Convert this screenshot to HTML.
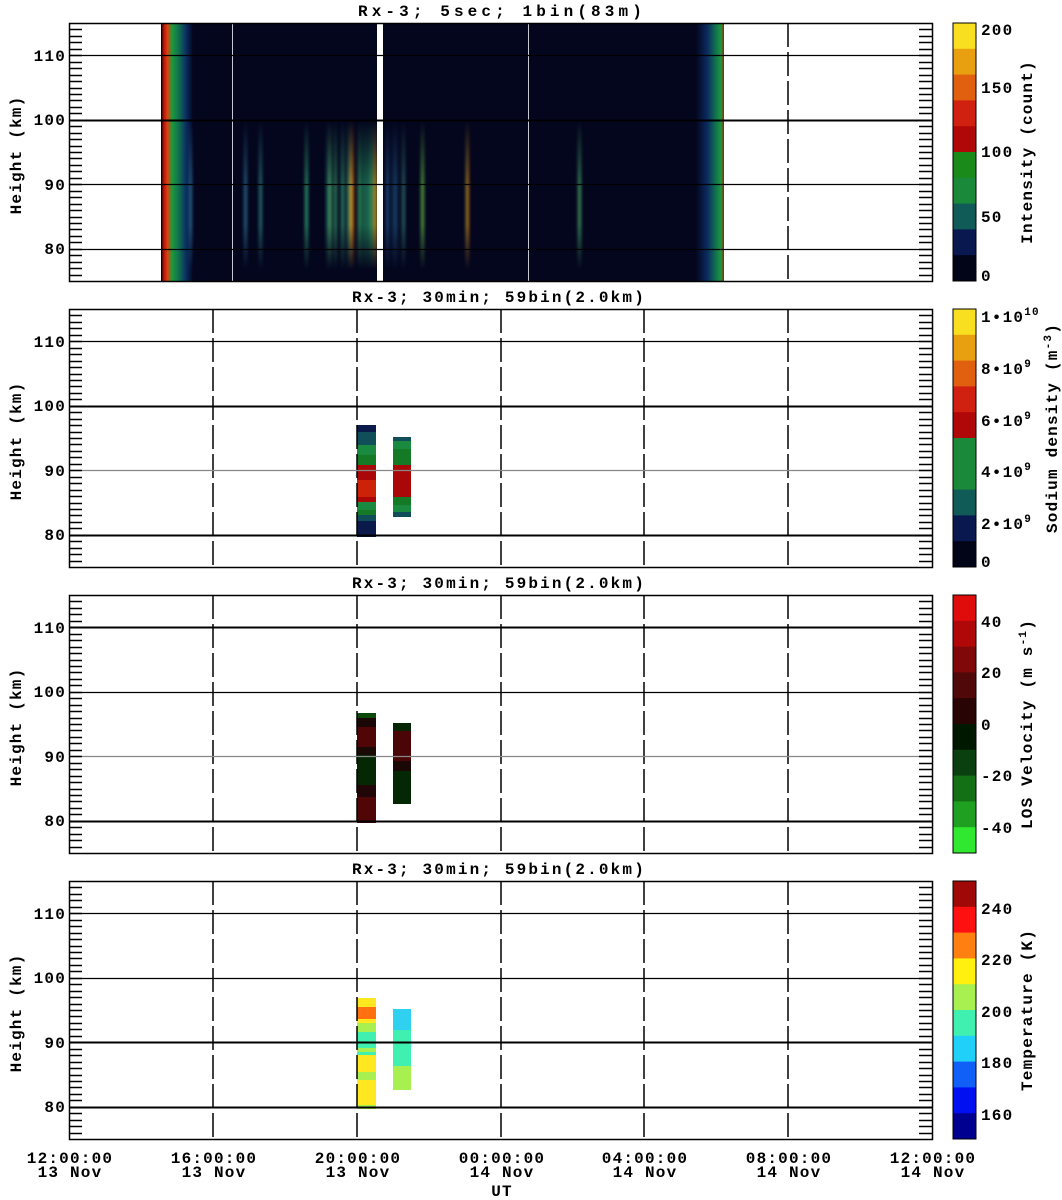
<!DOCTYPE html>
<html><head><meta charset="utf-8"><style>
html,body{margin:0;padding:0;background:#fff;}
svg{display:block;}
text{font-family:"Liberation Mono",monospace;font-weight:bold;fill:#000;font-size:16px;letter-spacing:1.2px;}
</style></head><body>
<svg id="s" width="1062" height="1200" viewBox="0 0 1062 1200" xmlns="http://www.w3.org/2000/svg" xml:space="preserve">
<defs>
<linearGradient id="lb" x1="0" x2="1" y1="0" y2="0">
<stop offset="0" stop-color="#000"/><stop offset="0.08" stop-color="#b01008"/><stop offset="0.2" stop-color="#e04010"/><stop offset="0.35" stop-color="#1a9a3a"/><stop offset="0.55" stop-color="#127050"/><stop offset="0.8" stop-color="#0a2a60"/><stop offset="1" stop-color="#04061e"/>
</linearGradient>
<linearGradient id="rb" x1="0" x2="1" y1="0" y2="0">
<stop offset="0" stop-color="#04061e"/><stop offset="0.4" stop-color="#0a2a60"/><stop offset="0.7" stop-color="#127050"/><stop offset="0.9" stop-color="#1a9a3a"/><stop offset="1" stop-color="#b01008"/>
</linearGradient>
<linearGradient id="sv" x1="0" x2="0" y1="0" y2="1">
<stop offset="0" stop-color="#fff" stop-opacity="0"/><stop offset="0.45" stop-color="#fff" stop-opacity="0.9"/><stop offset="0.7" stop-color="#fff" stop-opacity="0.9"/><stop offset="1" stop-color="#fff" stop-opacity="0"/>
</linearGradient>
<mask id="m"><rect x="0" y="120" width="1062" height="150" fill="url(#sv)"/></mask>
<filter id="bl" x="-1" y="0" width="3" height="1"><feGaussianBlur stdDeviation="1.6 0"/></filter>
</defs>

<!-- Panel 1 data -->
<rect x="161" y="23" width="563" height="258" fill="#04061e"/>
<rect x="161" y="23" width="32" height="258" fill="url(#lb)"/>
<rect x="696" y="23" width="28" height="258" fill="url(#rb)"/>
<g mask="url(#m)"><g id="streaks" filter="url(#bl)"></g></g>
<rect x="377" y="23" width="6" height="258" fill="#fff"/>
<rect x="232" y="23" width="1" height="258" fill="#c8c8d0"/>
<rect x="528" y="23" width="1" height="258" fill="#c8c8d0"/>
<rect x="161" y="23" width="1" height="258" fill="#000"/>

<!-- Panel 2 data -->
<g>
<rect x="357" y="425" width="19" height="7" fill="#0a1a4a"/>
<rect x="357" y="432" width="19" height="13" fill="#104f5a"/>
<rect x="357" y="445" width="19" height="10" fill="#1a8a40"/>
<rect x="357" y="455" width="19" height="10" fill="#157a25"/>
<rect x="357" y="465" width="19" height="15" fill="#aa0808"/>
<rect x="357" y="480" width="19" height="17" fill="#cc2208"/>
<rect x="357" y="497" width="19" height="5" fill="#aa0808"/>
<rect x="357" y="502" width="19" height="8" fill="#1a8a40"/>
<rect x="357" y="510" width="19" height="5" fill="#157a25"/>
<rect x="357" y="515" width="19" height="6" fill="#104f5a"/>
<rect x="357" y="521" width="19" height="16" fill="#0a1a4a"/>
<rect x="393" y="437" width="18" height="4" fill="#104f5a"/>
<rect x="393" y="441" width="18" height="8" fill="#1a8a40"/>
<rect x="393" y="449" width="18" height="16" fill="#157a25"/>
<rect x="393" y="465" width="18" height="32" fill="#aa0808"/>
<rect x="393" y="497" width="18" height="8" fill="#157a25"/>
<rect x="393" y="505" width="18" height="7" fill="#1a8a40"/>
<rect x="393" y="512" width="18" height="5" fill="#104f5a"/>
</g>
<!-- Panel 3 data -->
<g>
<rect x="357" y="713" width="19" height="5" fill="#0a4a0a"/>
<rect x="357" y="718" width="19" height="9" fill="#1a0806"/>
<rect x="357" y="727" width="19" height="20" fill="#500606"/>
<rect x="357" y="747" width="19" height="8" fill="#1a0a06"/>
<rect x="357" y="755" width="19" height="30" fill="#032803"/>
<rect x="357" y="785" width="19" height="12" fill="#200606"/>
<rect x="357" y="797" width="19" height="26" fill="#500606"/>
<rect x="393" y="723" width="18" height="8" fill="#062406"/>
<rect x="393" y="731" width="18" height="30" fill="#4a0606"/>
<rect x="393" y="761" width="18" height="10" fill="#1a0806"/>
<rect x="393" y="771" width="18" height="33" fill="#032803"/>
</g>
<!-- Panel 4 data -->
<g>
<rect x="357" y="998" width="19" height="9" fill="#ffe820"/>
<rect x="357" y="1007" width="19" height="12" fill="#ff7010"/>
<rect x="357" y="1019" width="19" height="4" fill="#ffe820"/>
<rect x="357" y="1023" width="19" height="9" fill="#a8f050"/>
<rect x="357" y="1032" width="19" height="16" fill="#40f0b0"/>
<rect x="357" y="1048" width="19" height="4" fill="#a8f050"/>
<rect x="357" y="1052" width="19" height="3" fill="#40f0b0"/>
<rect x="357" y="1055" width="19" height="17" fill="#ffe820"/>
<rect x="357" y="1072" width="19" height="8" fill="#a8f050"/>
<rect x="357" y="1080" width="19" height="25" fill="#ffe820"/>
<rect x="357" y="1105" width="19" height="4" fill="#a8f050"/>
<rect x="393" y="1009" width="18" height="21" fill="#30d0f0"/>
<rect x="393" y="1030" width="18" height="36" fill="#40f0b0"/>
<rect x="393" y="1066" width="18" height="24" fill="#a8f050"/>
</g>

<g id="axes"></g>
<g id="cbars"></g>

<!-- titles -->
<g>
<text x="358" y="16" textLength="285" lengthAdjust="spacing">Rx-3;  5sec; 1bin(83m)</text>
<text x="352" y="302" textLength="293" lengthAdjust="spacing">Rx-3; 30min; 59bin(2.0km)</text>
<text x="352" y="588" textLength="293" lengthAdjust="spacing">Rx-3; 30min; 59bin(2.0km)</text>
<text x="352" y="874" textLength="293" lengthAdjust="spacing">Rx-3; 30min; 59bin(2.0km)</text>
</g>
<!-- y labels -->
<g text-anchor="end">
<text x="66" y="61">110</text><text x="66" y="125">100</text><text x="66" y="190">90</text><text x="66" y="254">80</text>
<text x="66" y="347">110</text><text x="66" y="411">100</text><text x="66" y="476">90</text><text x="66" y="540">80</text>
<text x="66" y="633">110</text><text x="66" y="697">100</text><text x="66" y="762">90</text><text x="66" y="826">80</text>
<text x="66" y="919">110</text><text x="66" y="983">100</text><text x="66" y="1048">90</text><text x="66" y="1112">80</text>
</g>
<g text-anchor="middle">
<text transform="translate(21,155) rotate(-90)">Height  (km)</text>
<text transform="translate(21,441) rotate(-90)">Height  (km)</text>
<text transform="translate(21,727) rotate(-90)">Height  (km)</text>
<text transform="translate(21,1013) rotate(-90)">Height  (km)</text>
</g>
<!-- x labels -->
<g text-anchor="middle" style="letter-spacing:1.5px">
<text x="70" y="1163">12:00:00</text><text x="70" y="1177">13 Nov</text>
<text x="214" y="1163">16:00:00</text><text x="214" y="1177">13 Nov</text>
<text x="358" y="1163">20:00:00</text><text x="358" y="1177">13 Nov</text>
<text x="502" y="1163">00:00:00</text><text x="502" y="1177">14 Nov</text>
<text x="645" y="1163">04:00:00</text><text x="645" y="1177">14 Nov</text>
<text x="789" y="1163">08:00:00</text><text x="789" y="1177">14 Nov</text>
<text x="933" y="1163">12:00:00</text><text x="933" y="1177">14 Nov</text>
<text x="502" y="1196">UT</text>
</g>
<!-- colorbar labels -->
<g>
<text x="981" y="35">200</text><text x="981" y="93">150</text><text x="981" y="157">100</text><text x="981" y="222">50</text><text x="981" y="281">0</text>
<text x="981" y="322">1•10<tspan font-size="11" dy="-7">10</tspan></text>
<text x="981" y="374">8•10<tspan font-size="11" dy="-7">9</tspan></text>
<text x="981" y="426">6•10<tspan font-size="11" dy="-7">9</tspan></text>
<text x="981" y="477">4•10<tspan font-size="11" dy="-7">9</tspan></text>
<text x="981" y="529">2•10<tspan font-size="11" dy="-7">9</tspan></text>
<text x="981" y="567">0</text>
<text x="981" y="627">40</text><text x="981" y="678">20</text><text x="981" y="730">0</text><text x="981" y="781">-20</text><text x="981" y="833">-40</text>
<text x="981" y="914">240</text><text x="981" y="965">220</text><text x="981" y="1017">200</text><text x="981" y="1068">180</text><text x="981" y="1120">160</text>
</g>
<g text-anchor="middle">
<text transform="translate(1032,152) rotate(-90)">Intensity  (count)</text>
<text transform="translate(1057,428) rotate(-90)">Sodium density (m<tspan font-size="11" dy="-6">-3</tspan><tspan dy="6">)</tspan></text>
<text transform="translate(1032,724) rotate(-90)">LOS Velocity (m s<tspan font-size="11" dy="-6">-1</tspan><tspan dy="6">)</tspan></text>
<text transform="translate(1032,1010) rotate(-90)">Temperature (K)</text>
</g>
</svg>
<script>
var NS="http://www.w3.org/2000/svg";
function el(p,t,a){var e=document.createElementNS(NS,t);for(var k in a)e.setAttribute(k,a[k]);p.appendChild(e);return e;}
var ax=document.getElementById("axes");
var tops=[23,309,595,881];
var thick=[[0,1,0,0],[0,1,0,1],[1,0,0,1],[0,0,1,1]];// 110,100,90,80
var gray=[[0,0,0,0],[0,0,1,0],[0,0,1,0],[0,0,0,0]];
tops.forEach(function(t,i){
  var km=function(h){return t+(115-h)*6.45;};
  var xs=i==0?[788]:[213,357,501,644,788];
  xs.forEach(function(x){el(ax,"line",{x1:x,x2:x,y1:t,y2:t+258,stroke:"#000","stroke-width":1.5,"stroke-dasharray":"24,5"});});
  [110,100,90,80].forEach(function(h,j){
    var y=Math.round(km(h))+0.5;
    el(ax,"line",{x1:69,x2:932,y1:y,y2:y,stroke:gray[i][j]?"#888":"#000","stroke-width":thick[i][j]?2:1.2});
  });
  for(var h=76;h<=114;h++){
    var y=Math.round(km(h))+0.5;
    el(ax,"line",{x1:69,x2:82,y1:y,y2:y,stroke:"#000","stroke-width":1.5});
    el(ax,"line",{x1:919,x2:932,y1:y,y2:y,stroke:"#000","stroke-width":1.5});
  }
  el(ax,"rect",{x:69.5,y:t+0.5,width:863,height:258,fill:"none",stroke:"#000","stroke-width":1.5});
});
var cb=document.getElementById("cbars");
var cols=[
["#f8e020","#e8a010","#e06010","#d02010","#b00808","#1a8a1a","#1a8a3a","#105a58","#0a1850","#020418"],
["#f8e020","#e8a010","#e06010","#d02010","#b00808","#1a8a3a","#1a8a3a","#105a58","#0a1850","#020418"],
["#e00c0c","#b00808","#800808","#500808","#280404","#001800","#0a4010","#147014","#20a020","#30e830"],
["#a00808","#ff1010","#ff8010","#fff010","#a8f050","#40f0b0","#20d0f8","#1060f8","#0010f0","#000090"]];
tops.forEach(function(t,i){
  for(var k=0;k<10;k++)el(cb,"rect",{x:953,y:t+k*25.8,width:23,height:26.3,fill:cols[i][k]});
  el(cb,"rect",{x:953,y:t,width:23,height:258,fill:"none",stroke:"#000","stroke-width":1});
});
var st=document.getElementById("streaks");
var S=[[189,3,"#2a6a8a"],[244,3,"#2a6a8a"],[259,3,"#2a7a7a"],[305,3,"#30a070"],[326,6,"#1a5a5a"],[329,2,"#50b060"],[334,3,"#309060"],[341,3,"#309070"],[346,8,"#1a6050"],[350,3,"#d0c020"],[352,2,"#c03010"],[358,3,"#30a060"],[362,10,"#1a6a50"],[370,3,"#30a060"],[374,3,"#e0d020"],[376,1,"#d03010"],[386,3,"#205080"],[392,6,"#183a60"],[402,3,"#2a6a6a"],[421,3,"#60b040"],[466,3,"#c0a020"],[468,1,"#c02010"],[578,3,"#40a060"]];
S.forEach(function(s){el(st,"rect",{x:s[0],y:120,width:s[1],height:150,fill:s[2]});});
</script>
</body></html>
